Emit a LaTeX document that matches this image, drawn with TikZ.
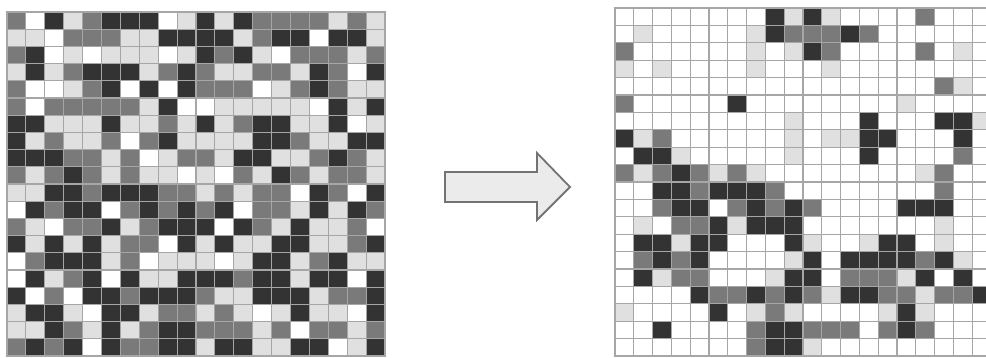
\documentclass[tikz,border=0pt]{standalone}
\usepackage{tikz}
\colorlet{shade0}{white}
\colorlet{shade1}{black!12}
\colorlet{shade2}{black!52}
\colorlet{shade3}{black!80}
\tikzset{
cell/.style={
	draw=black!35,
	line width=1.1pt
},
blockarrow/.style={
	draw=black!55,
	fill=black!8,
	line width=1.8pt,
	line join=miter
}
}

\begin{document}
\begin{tikzpicture}[x=1pt, y=-1pt]
\useasboundingbox (0,0) rectangle (986,357);
\clip (0,0) rectangle (986,357);
% ===== Left grid: raw values =====
\foreach \row [count=\r from 0] in {
  {2,0,3,1,2,3,3,3,0,1,3,1,3,2,2,2,2,1,2,1},
  {1,1,0,2,2,2,1,1,3,3,3,3,1,2,3,3,0,3,3,1},
  {2,3,0,1,0,1,1,1,0,1,3,2,3,1,0,2,2,2,1,2},
  {1,3,1,2,3,3,3,1,2,3,2,1,1,2,2,1,3,2,0,3},
  {2,0,0,1,2,3,0,3,0,3,2,2,2,0,1,2,3,2,1,1},
  {2,0,2,2,2,2,2,1,3,0,0,1,1,1,1,1,0,3,1,3},
  {3,3,1,1,1,3,1,1,2,1,3,1,2,3,3,1,1,3,0,1},
  {3,1,2,1,1,2,0,2,3,1,1,1,1,3,3,2,1,1,3,3},
  {3,3,3,2,2,1,2,0,1,2,2,1,3,3,1,1,2,3,2,1},
  {2,1,2,3,2,1,2,1,1,0,1,0,2,1,3,2,1,2,2,1},
  {1,1,3,3,2,3,3,3,2,2,1,2,1,2,2,0,3,2,0,3},
  {0,3,2,3,3,0,2,3,2,3,2,3,0,2,2,1,3,1,3,2},
  {2,1,0,2,2,3,1,2,3,3,3,0,3,2,1,3,1,1,2,0},
  {3,1,3,1,3,1,2,2,0,3,1,3,1,1,3,3,1,1,2,3},
  {0,2,3,3,3,1,2,0,1,1,1,0,1,3,3,1,2,3,1,1},
  {0,3,1,2,3,0,3,1,1,3,3,3,2,3,3,1,3,3,0,3},
  {3,0,2,0,3,3,2,3,3,3,2,1,1,3,3,3,1,2,2,3},
  {1,3,3,1,0,3,3,1,2,2,1,2,1,0,1,3,1,1,0,3},
  {1,1,3,2,1,3,1,2,3,3,2,2,2,1,2,0,2,2,1,2},
  {2,3,2,3,0,3,2,2,3,3,1,3,3,1,1,3,3,0,1,3}} {
  \foreach \v [count=\c from 0] in \row
    \filldraw[cell, fill=shade\v] (7+\c*18.9, 12+\r*17.2) rectangle ++(18.9,17.2);
}

% ===== Block arrow =====
\draw[blockarrow] (445,172) -- (537,172) -- (537,153) -- (570,187)
  -- (537,220) -- (537,202) -- (445,202) -- cycle;

% ===== Right grid: after filtering =====
\foreach \row [count=\r from 0] in {
  {0,0,0,0,0,0,0,0,3,1,3,1,0,0,0,0,2,0,0,0},
  {0,1,0,0,0,0,0,1,3,2,2,2,3,2,0,0,0,0,0,0},
  {2,0,0,0,0,0,0,1,0,1,3,2,0,0,0,0,2,0,1,0},
  {1,0,1,0,0,0,0,1,0,0,0,1,0,0,0,0,0,0,0,0},
  {0,0,0,0,0,0,0,0,0,0,0,0,0,0,0,0,0,2,1,0},
  {2,0,0,0,0,0,3,0,0,0,0,0,0,0,0,1,0,0,0,0},
  {0,0,0,0,0,0,0,0,0,1,0,0,0,3,0,0,0,3,3,1},
  {3,1,2,0,0,0,0,0,0,1,0,1,1,3,3,0,0,0,3,0},
  {0,3,3,1,0,0,0,0,0,1,0,0,0,3,0,0,0,0,2,0},
  {2,1,2,3,2,1,2,1,0,0,0,0,0,0,0,0,1,2,0,0},
  {0,0,3,3,2,3,3,3,2,0,0,0,0,0,0,0,0,2,0,0},
  {0,0,2,3,3,0,2,3,2,3,2,0,0,0,0,3,3,3,0,0},
  {0,1,0,2,2,3,1,3,3,3,0,0,0,0,0,0,0,1,0,0},
  {0,3,3,1,3,3,0,0,0,3,1,0,0,1,3,3,0,1,0,0},
  {0,2,3,2,3,0,0,0,0,1,3,0,3,3,3,3,2,3,1,0},
  {0,3,1,2,2,0,0,0,1,3,3,0,2,2,2,1,3,0,3,0},
  {0,0,0,0,3,2,2,3,2,3,2,1,3,3,2,2,1,2,2,3},
  {1,0,0,0,0,3,0,1,2,1,0,0,0,0,1,3,1,0,0,0},
  {0,0,3,0,0,0,0,2,3,3,2,2,2,0,2,3,2,0,0,0},
  {0,0,0,0,0,0,0,2,3,3,1,0,0,0,0,0,0,0,0,0}} {
  \foreach \v [count=\c from 0] in \row
    \filldraw[cell, fill=shade\v] (615+\c*18.8, 8+\r*17.4) rectangle ++(18.8,17.4);
}
\end{tikzpicture}
\end{document}
